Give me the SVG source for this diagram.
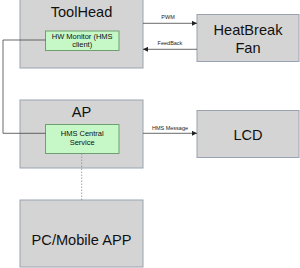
<svg xmlns="http://www.w3.org/2000/svg" width="300" height="268" viewBox="0 0 300 268">
<defs>
<marker id="ah" viewBox="0 0 6 6" refX="6" refY="3" markerWidth="5" markerHeight="5" orient="auto" markerUnits="userSpaceOnUse">
<path d="M0,0 L6,3 L0,6 z" fill="#222"/>
</marker>
</defs>
<style>
.box{fill:#d4d4d4;stroke:#98a4b0;stroke-width:1}
.sub{fill:#c6f7c6;stroke:#6f9f6f;stroke-width:1}
.big{font-family:"Liberation Sans",Arial,sans-serif;font-size:14.6px;fill:#111;text-anchor:middle}
.small{font-family:"Liberation Sans",Arial,sans-serif;font-size:7.5px;fill:#111;text-anchor:middle}
.lbl{font-family:"Liberation Sans",Arial,sans-serif;font-size:5.5px;fill:#222;text-anchor:middle}
.ln{fill:none;stroke:#444;stroke-width:0.8}
.dot{fill:none;stroke:#8a8a8a;stroke-width:0.8;stroke-dasharray:1.5,1.5}
</style>
<rect width="300" height="268" fill="#fff"/>
<g id="toolhead">
<rect class="box" x="20" y="-1" width="123" height="69"/>
<text class="big" x="81.5" y="17.3">ToolHead</text>
</g>
<g id="hwmonitor">
<rect class="sub" x="45.5" y="31" width="73.5" height="19.5"/>
<text class="small" x="82.2" y="38.5">HW Monitor (HMS</text>
<text class="small" x="82.2" y="47">client)</text>
</g>
<g id="heatbreak">
<rect class="box" x="197" y="14.5" width="102" height="47"/>
<text class="big" x="248" y="35">HeatBreak</text>
<text class="big" x="248" y="53.3">Fan</text>
</g>
<g id="ap">
<rect class="box" x="20" y="100" width="123" height="68"/>
<text class="big" x="81.5" y="116.7">AP</text>
</g>
<g id="hmscentral">
<rect class="sub" x="45.5" y="124.5" width="73.5" height="29"/>
<text class="small" x="82.2" y="136">HMS Central</text>
<text class="small" x="82.2" y="145">Service</text>
</g>
<g id="lcd">
<rect class="box" x="197" y="110.5" width="102" height="47"/>
<text class="big" x="248" y="140">LCD</text>
</g>
<g id="pcmobile">
<rect class="box" x="20" y="200" width="123" height="67"/>
<text class="big" x="81.5" y="245">PC/Mobile APP</text>
</g>
<g id="connectors">
<path class="ln" d="M45.5,40 H3 V133.3 H45.5"/>
<path class="ln" d="M143,23.3 H197" marker-end="url(#ah)"/>
<path class="ln" d="M197,49.3 H143" marker-end="url(#ah)"/>
<path class="ln" d="M143,133.3 H197" marker-end="url(#ah)"/>
<path class="dot" d="M81.7,153.5 V200"/>
<text class="lbl" x="168" y="18.5">PWM</text>
<text class="lbl" x="170" y="45">FeedBack</text>
<text class="lbl" x="170" y="130">HMS Message</text>
</g>
</svg>
